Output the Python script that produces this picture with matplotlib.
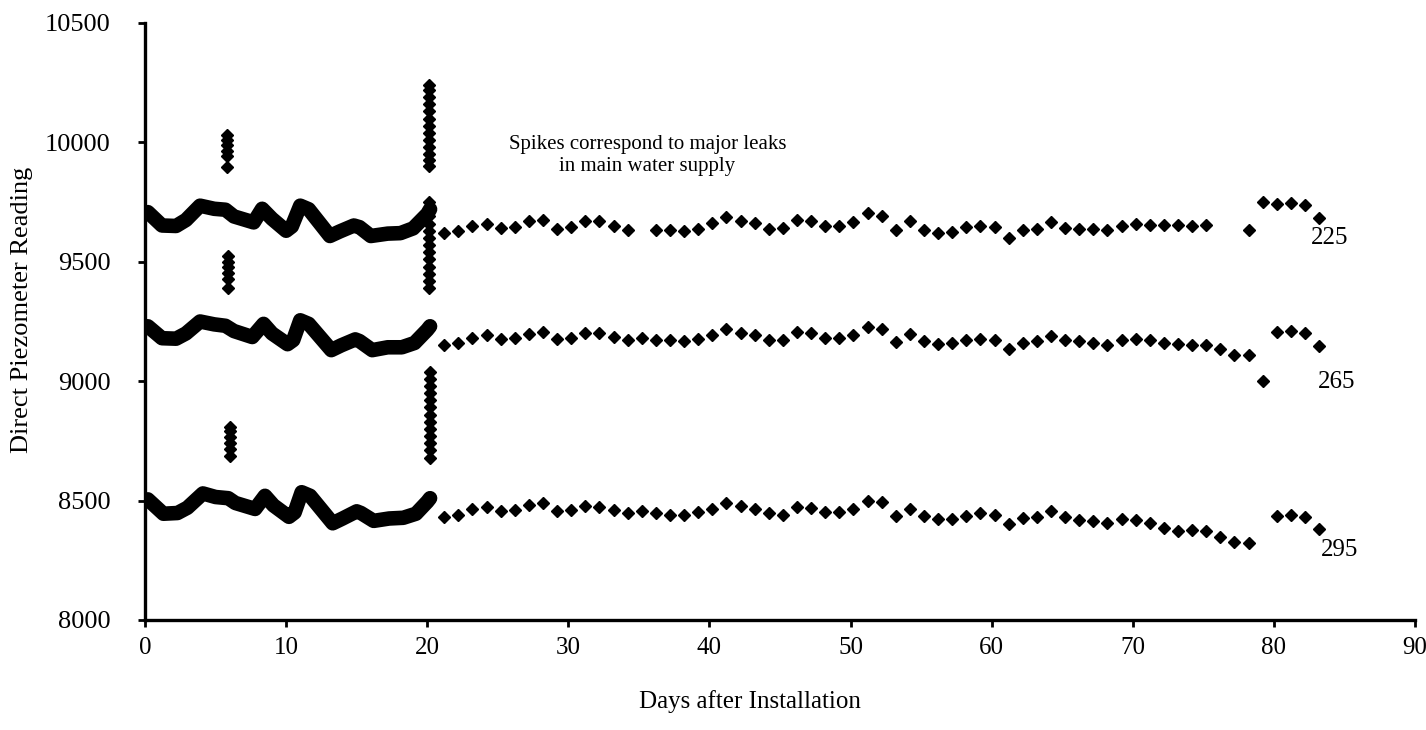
import matplotlib
matplotlib.use("Agg")
import matplotlib.pyplot as plt

plt.rcParams['font.family'] = ['Liberation Serif', 'DejaVu Serif']

# continuous (hourly) record, days 0-20, read as knots along the thick trace
dense_x_225 = [0.0, 0.2, 1.2, 2.2, 2.9, 3.9, 4.9, 5.7, 6.3, 7.7, 8.3, 9.0, 10.0, 10.4, 11.0, 11.6,
               13.1, 13.8, 14.8, 15.2, 16.0, 17.2, 18.1, 19.0, 20.0, 20.2]
dense_y_225 = [9700, 9708, 9652, 9650, 9675, 9735, 9722, 9718, 9690, 9665, 9722, 9680, 9630, 9648, 9735, 9720,
               9608, 9627, 9652, 9645, 9608, 9618, 9620, 9640, 9700, 9720]
dense_x_265 = [0.0, 0.2, 1.2, 2.2, 2.9, 3.9, 4.9, 5.7, 6.3, 7.6, 8.4, 9.0, 10.1, 10.5, 11.0, 11.6,
               13.2, 13.9, 14.9, 15.2, 16.1, 17.2, 18.2, 19.1, 20.0, 20.2]
dense_y_265 = [9225, 9230, 9180, 9178, 9200, 9250, 9238, 9232, 9210, 9185, 9240, 9200, 9155, 9172, 9255, 9240,
               9130, 9150, 9175, 9168, 9130, 9142, 9142, 9160, 9215, 9230]
dense_x_295 = [0.0, 0.2, 1.3, 2.3, 3.0, 4.1, 5.0, 5.9, 6.4, 7.8, 8.5, 9.1, 10.2, 10.6, 11.1, 11.7,
               13.3, 14.0, 15.0, 15.3, 16.2, 17.3, 18.3, 19.2, 20.0, 20.2]
dense_y_295 = [8500, 8505, 8445, 8448, 8470, 8530, 8515, 8510, 8490, 8465, 8520, 8480, 8432, 8450, 8535, 8520,
               8405, 8425, 8455, 8448, 8415, 8425, 8428, 8445, 8495, 8510]

# leak spikes
spike1_x = [5.8, 5.85, 6.0]
spike1_225 = [10030, 10010, 9990, 9965, 9945, 9895]
spike1_265 = [9525, 9500, 9478, 9455, 9428, 9392]
spike1_295 = [8810, 8790, 8765, 8740, 8715, 8685]
spike2_x = [20.1, 20.1, 20.2]
spike2_225 = [10240, 10220, 10190, 10160, 10130, 10100, 10070, 10040, 10010, 9980, 9950, 9925, 9900]
spike2_265 = [9750, 9720, 9690, 9660, 9630, 9600, 9570, 9540, 9510, 9480, 9450, 9420, 9390]
spike2_295 = [9040, 9010, 8980, 8950, 8920, 8890, 8860, 8830, 8800, 8770, 8740, 8710, 8680]

# daily readings after day 20
days_225 = list(range(21, 35)) + list(range(36, 76)) + list(range(78, 84))
vals_225 = [9620, 9627, 9651, 9659, 9641, 9645, 9669, 9676, 9637, 9645, 9669, 9669, 9648, 9634,
            9634, 9634, 9631, 9638, 9662, 9687, 9669, 9662, 9637, 9641, 9676, 9669, 9648, 9648, 9665, 9704,
            9692, 9634, 9669, 9635, 9620, 9624, 9644, 9650, 9644, 9599, 9632, 9639, 9666, 9642, 9639, 9639,
            9632, 9650, 9659, 9654, 9654, 9654, 9648, 9655,
            9634, 9752, 9743, 9748, 9738, 9683]
days_265 = list(range(21, 84))
vals_265 = [9153, 9162, 9181, 9192, 9176, 9181, 9199, 9206, 9176, 9181, 9202, 9202, 9183, 9174, 9181,
            9174, 9171, 9169, 9176, 9195, 9218, 9202, 9195, 9171, 9171, 9204, 9202, 9181, 9181, 9195,
            9227, 9220, 9165, 9197, 9167, 9157, 9160, 9171, 9176, 9174, 9135, 9160, 9167, 9190, 9174,
            9167, 9162, 9153, 9171, 9176, 9171, 9162, 9157, 9150, 9150, 9135, 9111, 9111, 9000, 9204,
            9209, 9202, 9149]
days_295 = list(range(21, 79)) + list(range(80, 84))
vals_295 = [8432, 8441, 8465, 8474, 8458, 8462, 8481, 8488, 8455, 8462, 8479, 8474, 8460, 8446, 8458,
            8446, 8441, 8441, 8451, 8465, 8490, 8476, 8465, 8446, 8441, 8472, 8469, 8451, 8451, 8465,
            8497, 8493, 8436, 8466, 8437, 8423, 8423, 8437, 8446, 8441, 8400, 8427, 8432, 8455, 8432,
            8420, 8416, 8407, 8425, 8420, 8407, 8386, 8372, 8375, 8372, 8346, 8326, 8323,
            8437, 8441, 8432, 8379]

series = [
    ("225", dense_x_225, dense_y_225, spike1_225, spike2_225, days_225, vals_225, (82.6, 9600)),
    ("265", dense_x_265, dense_y_265, spike1_265, spike2_265, days_265, vals_265, (83.1, 8995)),
    ("295", dense_x_295, dense_y_295, spike1_295, spike2_295, days_295, vals_295, (83.3, 8295)),
]

fig = plt.figure(figsize=(14.26, 7.30), dpi=100)
ax = fig.add_axes([0.1017, 0.1507, 0.8906, 0.8178])

for i, (name, dx, dy, s1, s2, d, v, lab) in enumerate(series):
    ax.plot(dx, dy, color='black', lw=10.5, solid_joinstyle='round', solid_capstyle='round')
    ax.plot([spike1_x[i]] * len(s1), s1, 'D', color='black', ms=6.5, ls='none')
    ax.plot([spike2_x[i]] * len(s2), s2, 'D', color='black', ms=6.5, ls='none')
    ax.plot([x + 0.2 for x in d], v, 'D', color='black', ms=6.5, ls='none')
    ax.text(lab[0], lab[1], name, fontsize=18, ha='left', va='center')

ax.text(35.6, 9945, "Spikes correspond to major leaks\nin main water supply",
        fontsize=15, ha='center', va='center', linespacing=1.15)

ax.set_xlim(0, 90)
ax.set_ylim(8000, 10500)
ax.set_xticks(range(0, 91, 10))
ax.set_yticks(range(8000, 10501, 500))
ax.spines['top'].set_visible(False)
ax.spines['right'].set_visible(False)
ax.spines['left'].set_linewidth(2.4)
ax.spines['bottom'].set_linewidth(2.4)
ax.tick_params(direction='out', length=5, width=2, labelsize=19)
ax.tick_params(axis='y', pad=20)
ax.tick_params(axis='x', pad=7, labelsize=18)
ax.set_xlabel('Days after Installation', fontsize=18)
ax.set_ylabel('Direct Piezometer Reading', fontsize=19)
ax.xaxis.set_label_coords(0.476, -0.117)
ax.yaxis.set_label_coords(-0.088, 0.519)

fig.savefig('out.png', dpi=100)
